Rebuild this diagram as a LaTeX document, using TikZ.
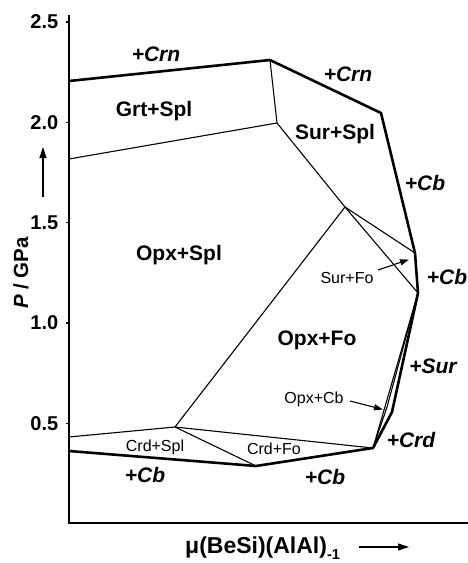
\documentclass[tikz,border=0pt]{standalone}
\usepackage{fontspec}
\setmainfont{Liberation Sans}
\usetikzlibrary{arrows.meta}
\begin{document}
\begin{tikzpicture}[x=1pt,y=-1pt,
  bold line/.style={line width=2.6pt, line join=round, line cap=round},
  thin line/.style={line width=1.1pt, line join=round},
  axis line/.style={line width=1.2pt},
  regionlab/.style={font=\fontsize{21}{21}\selectfont\bfseries, inner sep=0pt, anchor=base},
  pluslab/.style={font=\fontsize{21}{21}\selectfont\bfseries\itshape, inner sep=0pt, anchor=base},
  smalllab/.style={font=\fontsize{16}{16}\selectfont, inner sep=0pt, anchor=base},
  ticklab/.style={font=\fontsize{20}{20}\selectfont\bfseries, inner sep=0pt, anchor=east},
  pointer/.style={line width=1.1pt, -{Triangle[length=9pt,width=6pt]}},
  axisarrow/.style={line width=1.2pt, -{Triangle[length=11pt,width=7pt]}}]
\useasboundingbox (0,0) rectangle (468,563);

% axes
\coordinate (ytop) at (69,15);
\coordinate (origin) at (69,523);
\coordinate (xend) at (468,523);
\draw[axis line] (ytop) -- (origin) -- (xend);
\foreach \p/\lab/\i in {2.5/2.5/a,2.0/2.0/b,1.5/1.5/c,1.0/1.0/d,0.5/0.5/e}{
  \pgfmathsetmacro{\yy}{523.5-200.6*\p}
  \coordinate (tk\i) at (66,\yy);
  \coordinate (tr\i) at (69,\yy);
  \draw[axis line] (tk\i) -- (tr\i);
  \node[ticklab] (tl\i) at (58.5,\yy) {\lab};
}
\node[font=\fontsize{20.5}{20.5}\selectfont\bfseries, rotate=90, inner sep=0pt] (ylab) at (21,273) {{\itshape P} / GPa};
\coordinate (ya1) at (43,197);
\coordinate (ya2) at (43,147);
\draw[axisarrow] (ya1) -- (ya2);

\node[font=\fontsize{23}{23}\selectfont\bfseries, inner sep=0pt, anchor=base west] (xlab) at (185,553)
  {μ(BeSi)(AlAl)\raisebox{-6pt}{\fontsize{14.5}{14.5}\selectfont -1}};
\coordinate (xa1) at (359,547);
\coordinate (xa2) at (409,547);
\draw[axisarrow] (xa1) -- (xa2);

% vertices
\coordinate (A1) at (69,81);
\coordinate (A2) at (270,60);
\coordinate (A3) at (381,113);
\coordinate (A4) at (415,253);
\coordinate (A5) at (418,293);
\coordinate (A6) at (392,412);
\coordinate (A7) at (373,448);
\coordinate (A8) at (256,466);
\coordinate (A9) at (69,451);
\coordinate (G1) at (69,159);
\coordinate (G2) at (277,123);
\coordinate (V1) at (345,207);
\coordinate (C1) at (175,427);
\coordinate (L1) at (69,437);
\coordinate (M1) at (387,407);

% bold outer boundary
\draw[bold line] (A1) -- (A2) -- (A3) -- (A4) -- (A5) -- (A6) -- (A7) -- (A8) -- (A9);

% thin boundaries
\draw[thin line] (A2) -- (G2);
\draw[thin line] (G1) -- (G2) -- (V1);
\draw[thin line] (V1) -- (A4);
\draw[thin line] (V1) -- (A5);
\draw[thin line] (V1) -- (C1);
\draw[thin line] (L1) -- (C1) -- (A7);
\draw[thin line] (C1) -- (A8);
\draw[thin line] (A5) -- (A7);
\draw[thin line] (A5) -- (M1) -- (A7);

% labels
\node[pluslab] (crn1) at (156,61.5) {+Crn};
\node[regionlab] (grtspl) at (154,116.5) {Grt+Spl};
\node[pluslab] (crn2) at (348,81) {+Crn};
\node[regionlab] (surspl) at (335,139.5) {Sur+Spl};
\node[pluslab] (cb1) at (425,190.5) {+Cb};
\node[regionlab] (opxspl) at (179,260) {Opx+Spl};
\node[smalllab] (surfo) at (347,283) {Sur+Fo};
\node[pluslab] (cb2) at (447,284) {+Cb};
\node[regionlab] (opxfo) at (317,345) {Opx+Fo};
\node[pluslab] (sur) at (433,373.5) {+Sur};
\node[smalllab] (opxcb) at (314,403.5) {Opx+Cb};
\node[pluslab] (crd) at (411,447.5) {+Crd};
\node[smalllab] (crdspl) at (155,451) {Crd+Spl};
\node[smalllab] (crdfo) at (274,454) {Crd+Fo};
\node[pluslab] (cb3) at (145,482.5) {+Cb};
\node[pluslab] (cb4) at (325,484) {+Cb};

% pointers
\coordinate (p1a) at (378,270);
\coordinate (p1b) at (409,259.5);
\draw[pointer] (p1a) -- (p1b);
\coordinate (p2a) at (350,401);
\coordinate (p2b) at (383,409.5);
\draw[pointer] (p2a) -- (p2b);
\end{tikzpicture}
\end{document}
